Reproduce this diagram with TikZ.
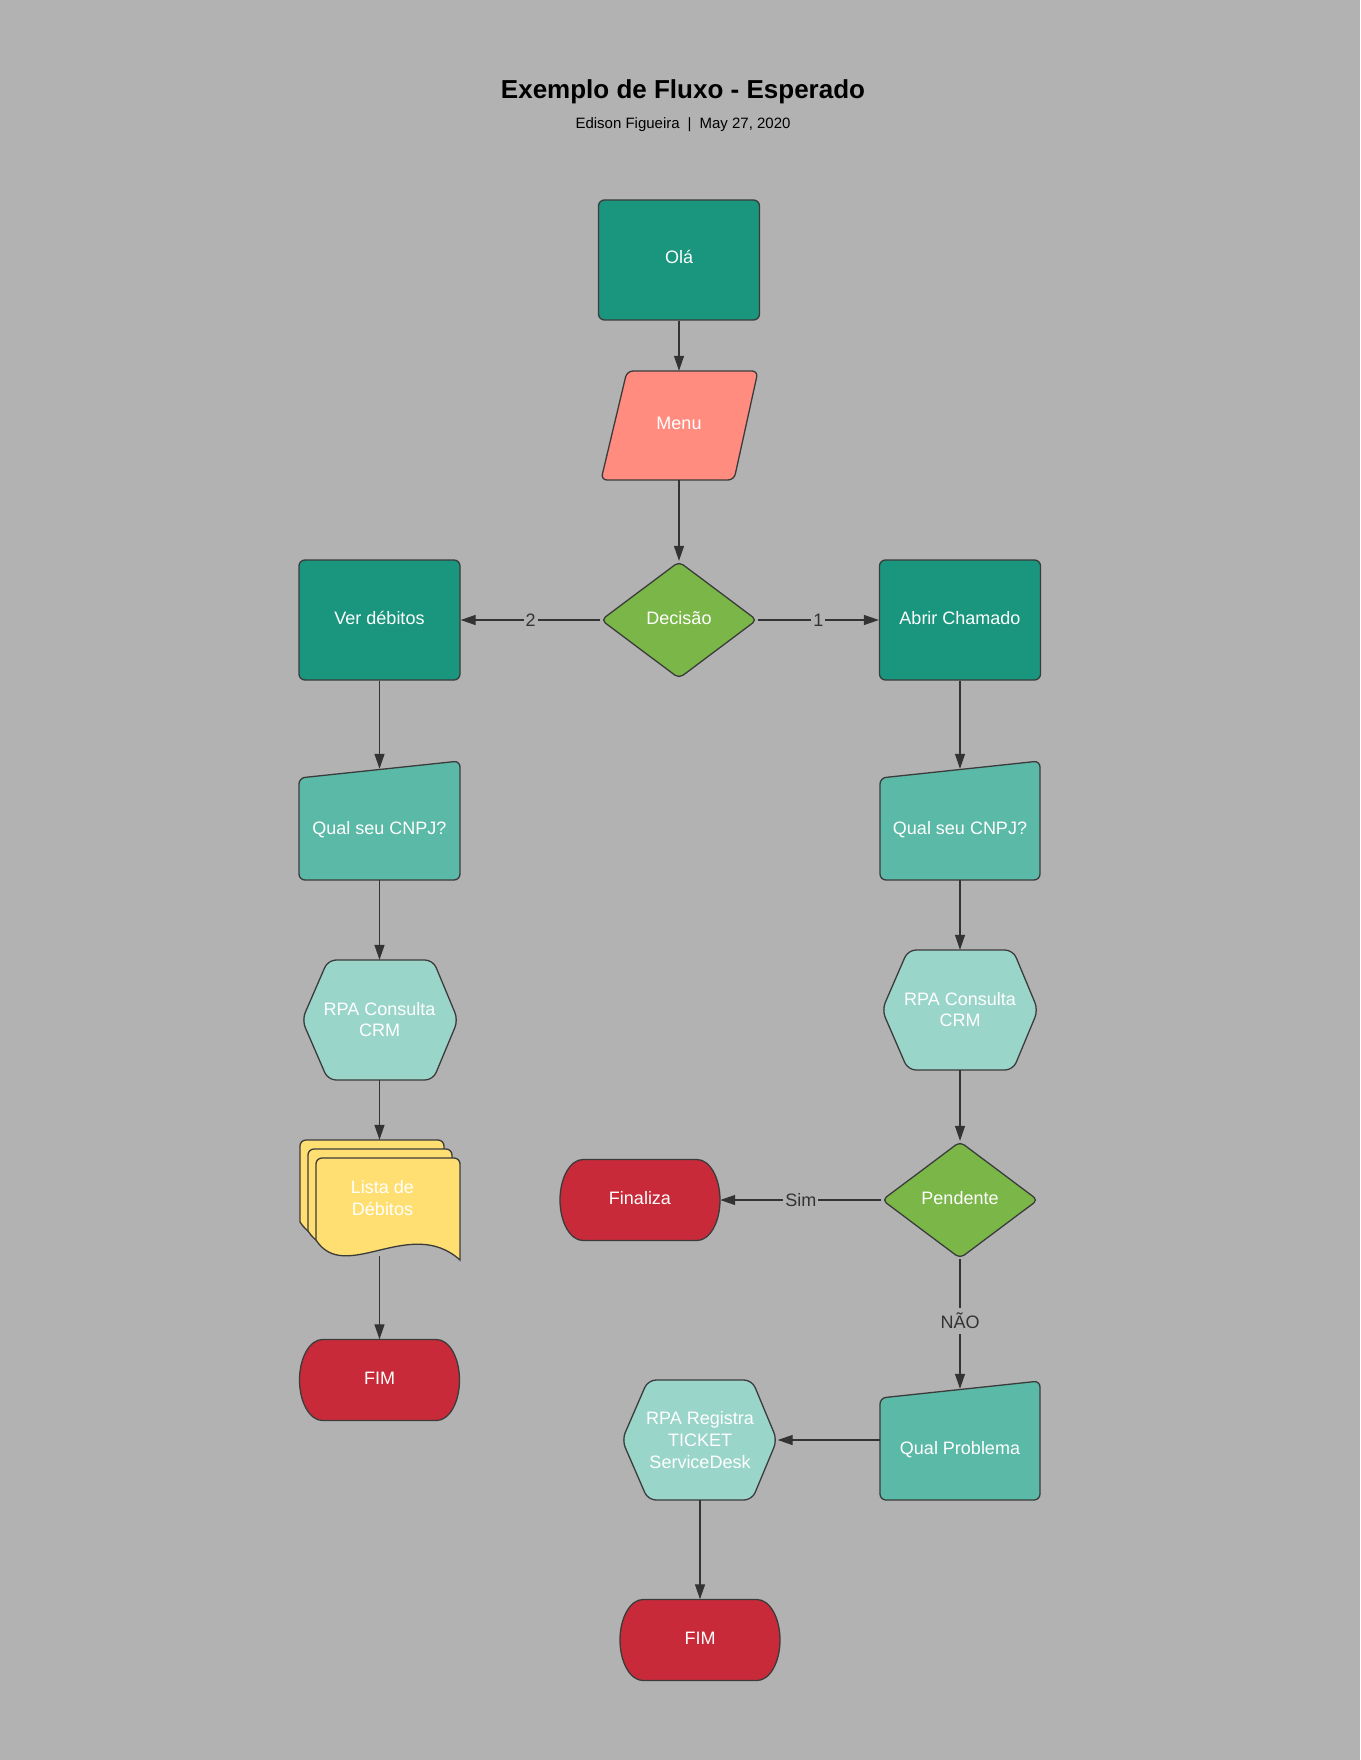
\documentclass[tikz,border=0pt]{standalone}
\usepackage{fontspec}
\setmainfont{Liberation Sans}
\usetikzlibrary{arrows.meta,shapes.geometric,calc}
\definecolor{bg}{HTML}{B2B2B2}
\definecolor{tealdk}{HTML}{19967D}
\definecolor{salmon}{HTML}{FF8C7F}
\definecolor{greenD}{HTML}{7AB648}
\definecolor{tealmd}{HTML}{5BB9A7}
\definecolor{teallt}{HTML}{9AD5CA}
\definecolor{yel}{HTML}{FFDF71}
\definecolor{redT}{HTML}{C92A39}
\definecolor{outl}{HTML}{3B3B3B}
\definecolor{linec}{HTML}{333333}
\newcommand\mkterm[2]{%
  \draw[draw=outl,line width=1.3pt,fill=redT] (#1-57,#2-40.5) -- ++(114,0)
    arc[start angle=90,end angle=-90,x radius=23pt,y radius=40.5pt] -- ++(-114,0)
    arc[start angle=270,end angle=90,x radius=23pt,y radius=40.5pt] -- cycle;}
\begin{document}
\begin{tikzpicture}[x=1pt,y=-1pt,
  shp/.style={draw=outl,line width=1.3pt,rounded corners=6pt},
  lbl/.style={text=white,font=\fontsize{18}{22}\selectfont,align=center,inner sep=0pt},
  one/.style={lbl,text height=13pt,text depth=5pt},
  low/.style={lbl,text height=19pt,text depth=0pt},
  conn/.style={draw=linec,line width=1.3pt,-{Triangle[length=15pt,width=10pt]}},
  elab/.style={fill=bg,text=linec,font=\fontsize{18}{22}\selectfont,inner xsep=2pt,inner ysep=5pt}]
\fill[bg] (0,0) rectangle (1360,1760);
\useasboundingbox (0,0) rectangle (1360,1760);

% title
\node[font=\bfseries\fontsize{26}{30}\selectfont] (title) at (683,91.5) {Exemplo de Fluxo - Esperado};
\node[font=\fontsize{15}{18}\selectfont] (sub) at (683,125) {Edison Figueira\hspace{8pt}|\hspace{8pt}May 27, 2020};

% top
\node[shp,fill=tealdk,one,minimum width=161pt,minimum height=120pt] (ola) at (679,260) {Olá};
\draw[shp,fill=salmon] (627,371) -- (758,371) -- (734,480) -- (601,480) -- cycle;
\node[one,minimum width=130pt,minimum height=109pt] (menu) at (679,425.5) {Menu};
\node[shp,diamond,fill=greenD,one,rounded corners=5pt,minimum width=156pt,minimum height=117pt] (dec) at (679,620) {Decisão};
\node[shp,fill=tealdk,one,minimum width=161pt,minimum height=120pt] (ver) at (379.5,620) {Ver débitos};
\node[shp,fill=tealdk,one,minimum width=161pt,minimum height=120pt] (abrir) at (960,620) {Abrir Chamado};

% left column
\draw[shp,fill=tealmd] (299,778) -- (460,761) -- (460,880) -- (299,880) -- cycle;
\node[low,minimum width=161pt,minimum height=111pt] (cnpjL) at (379.5,824.5) {Qual seu CNPJ?};
\draw[shp,fill=teallt,rounded corners=8pt] (328,960) -- (433,960) -- (458,1020) -- (433,1080) -- (328,1080) -- (302,1020) -- cycle;
\node[lbl,font=\fontsize{18}{21}\selectfont,minimum width=156pt,minimum height=120pt] (hexL) at (379.5,1020) {RPA Consulta\\CRM};
\foreach \d in {-2,-1,0}{
  \draw[draw=outl,line width=1.3pt,fill=yel,shift={(8*\d,9*\d)}]
    (316,1240) [rounded corners=6pt] -- (316,1158) -- (460,1158) [sharp corners] -- (460,1260)
    .. controls (410,1215) and (345,1285) .. (316,1240) -- cycle;
}
\node[lbl,font=\fontsize{18}{21.5}\selectfont,minimum width=144pt,minimum height=116pt] (doc) at (382.5,1198) {Lista de\\Débitos};
\mkterm{379.5}{1380}
\node[one,minimum width=160pt,minimum height=81pt] (fimL) at (379.5,1380) {FIM};

% right column
\draw[shp,fill=tealmd] (880,778) -- (1040,761) -- (1040,880) -- (880,880) -- cycle;
\node[low,minimum width=160pt,minimum height=111pt] (cnpjR) at (960,824.5) {Qual seu CNPJ?};
\draw[shp,fill=teallt,rounded corners=8pt] (908,950) -- (1013,950) -- (1038,1010) -- (1013,1070) -- (908,1070) -- (882,1010) -- cycle;
\node[lbl,font=\fontsize{18}{21}\selectfont,minimum width=156pt,minimum height=120pt] (hexR) at (960,1010) {RPA Consulta\\CRM};
\node[shp,diamond,fill=greenD,one,rounded corners=5pt,minimum width=156pt,minimum height=117pt] (pend) at (960,1200) {Pendente};
\mkterm{640}{1200}
\node[one,minimum width=160pt,minimum height=81pt] (fin) at (640,1200) {Finaliza};
\draw[shp,fill=tealmd] (880,1398) -- (1040,1381) -- (1040,1500) -- (880,1500) -- cycle;
\node[low,minimum width=160pt,minimum height=111pt] (qp) at (960,1444.5) {Qual Problema};
\draw[shp,fill=teallt,rounded corners=8pt] (648,1380) -- (752,1380) -- (777,1440) -- (752,1500) -- (648,1500) -- (622,1440) -- cycle;
\node[lbl,font=\fontsize{18}{22}\selectfont,minimum width=155pt,minimum height=120pt] (hexB) at (700,1440) {RPA Registra\\TICKET\\ServiceDesk};
\mkterm{700}{1640}
\node[one,minimum width=160pt,minimum height=81pt] (fimB) at (700,1640) {FIM};

% connectors
\draw[conn] (ola) -- (menu);
\draw[conn] (menu) -- (dec);
\draw[conn] (dec) -- node[elab]{2} (ver);
\draw[conn] (dec) -- node[elab]{1} (abrir);
\draw[conn] (ver) -- (cnpjL);
\draw[conn] (cnpjL) -- (hexL);
\draw[conn] (hexL.south) -- (hexL.south |- doc.north);
\draw[conn] (doc.south -| fimL.north) -- (fimL.north);
\draw[conn] (abrir) -- (cnpjR);
\draw[conn] (cnpjR) -- (hexR);
\draw[conn] (hexR) -- (pend);
\draw[conn] (pend) -- node[elab]{Sim} (fin);
\draw[conn] (pend) -- node[elab,pos=0.475]{NÃO} (qp);
\draw[conn] ([yshift=4.5pt]qp.west) -- ([yshift=4.5pt]qp.west -| hexB.east);
\draw[conn] (hexB) -- (fimB);
\end{tikzpicture}
\end{document}
